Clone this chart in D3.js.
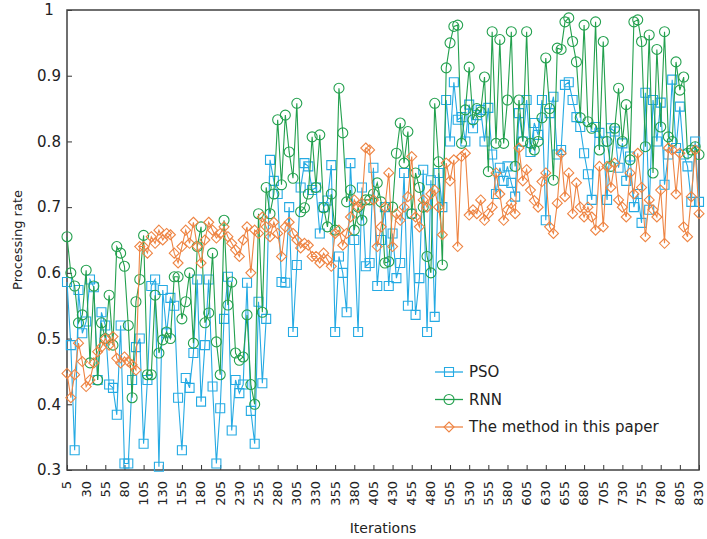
<!DOCTYPE html>
<html>
<head>
<meta charset="utf-8">
<script src="https://cdn.jsdelivr.net/npm/d3@7"></script>
<style>
  body { margin: 0; background: #fff; }
  text { font-family: "DejaVu Sans", Verdana, sans-serif; fill: #222; }
</style>
</head>
<body>
<script>
// iterations on the x axis
var iteraties = d3.range(5, 835, 5);
var xTicks = [5, 30, 55, 80, 105, 130, 155, 180, 205, 230, 255, 280, 305, 330, 355, 380, 405,
  430, 455, 480, 505, 530, 555, 580, 605, 630, 655, 680, 705, 730, 755, 780, 805, 830];
var yTicks = [0.3, 0.4, 0.5, 0.6, 0.7, 0.8, 0.9, 1];

var pso = [0.586, 0.49, 0.33, 0.574, 0.508, 0.526, 0.59, 0.578, 0.437, 0.54,
  0.52, 0.43, 0.425, 0.384, 0.52, 0.31, 0.31, 0.437, 0.487, 0.50,
  0.34, 0.437, 0.58, 0.59, 0.305, 0.574, 0.508, 0.562, 0.55, 0.41,
  0.33, 0.44, 0.425, 0.478, 0.59, 0.404, 0.49, 0.59, 0.427, 0.31,
  0.394, 0.53, 0.594, 0.36, 0.437, 0.417, 0.43, 0.585, 0.39, 0.34,
  0.556, 0.432, 0.53, 0.772, 0.74, 0.72, 0.586, 0.585, 0.70, 0.51,
  0.612, 0.73, 0.767, 0.762, 0.726, 0.73, 0.66, 0.70, 0.71, 0.764,
  0.51, 0.625, 0.60, 0.54, 0.767, 0.65, 0.51, 0.73, 0.61, 0.615,
  0.76, 0.58, 0.65, 0.70, 0.58, 0.66, 0.592, 0.615, 0.752, 0.55,
  0.69, 0.536, 0.592, 0.757, 0.51, 0.741, 0.533, 0.752, 0.70, 0.863,
  0.80, 0.89, 0.833, 0.837, 0.80, 0.856, 0.82, 0.84, 0.848, 0.80,
  0.851, 0.78, 0.72, 0.76, 0.74, 0.762, 0.737, 0.716, 0.843, 0.80,
  0.863, 0.784, 0.828, 0.81, 0.863, 0.68, 0.843, 0.868, 0.78, 0.787,
  0.886, 0.89, 0.863, 0.837, 0.822, 0.782, 0.75, 0.711, 0.822, 0.813,
  0.80, 0.711, 0.82, 0.815, 0.76, 0.797, 0.74, 0.777, 0.70, 0.72,
  0.676, 0.874, 0.696, 0.863, 0.80, 0.859, 0.734, 0.78, 0.894, 0.79,
  0.853, 0.78, 0.762, 0.708, 0.80, 0.708];

var rnn = [0.655, 0.60, 0.58, 0.524, 0.536, 0.604, 0.463, 0.58, 0.437, 0.524,
  0.50, 0.566, 0.49, 0.64, 0.63, 0.61, 0.52, 0.41, 0.556, 0.59,
  0.657, 0.445, 0.445, 0.566, 0.478, 0.498, 0.51, 0.50, 0.594, 0.594,
  0.53, 0.556, 0.60, 0.493, 0.64, 0.67, 0.524, 0.539, 0.63, 0.495,
  0.445, 0.68, 0.551, 0.586, 0.478, 0.467, 0.472, 0.536, 0.43, 0.40,
  0.69, 0.54, 0.73, 0.69, 0.72, 0.833, 0.734, 0.84, 0.784, 0.744,
  0.858, 0.693, 0.699, 0.72, 0.807, 0.73, 0.81, 0.699, 0.67, 0.72,
  0.665, 0.881, 0.813, 0.708, 0.726, 0.665, 0.70, 0.68, 0.711, 0.711,
  0.72, 0.737, 0.708, 0.615, 0.617, 0.70, 0.782, 0.828, 0.767, 0.815,
  0.69, 0.752, 0.73, 0.70, 0.625, 0.60, 0.858, 0.769, 0.612, 0.912,
  0.95, 0.975, 0.977, 0.797, 0.848, 0.913, 0.833, 0.85, 0.845, 0.898,
  0.754, 0.967, 0.797, 0.955, 0.797, 0.863, 0.967, 0.762, 0.863, 0.80,
  0.967, 0.797, 0.787, 0.80, 0.836, 0.927, 0.85, 0.741, 0.942, 0.94,
  0.982, 0.988, 0.952, 0.921, 0.836, 0.977, 0.83, 0.82, 0.982, 0.787,
  0.952, 0.80, 0.762, 0.82, 0.881, 0.80, 0.856, 0.772, 0.982, 0.985,
  0.952, 0.792, 0.962, 0.752, 0.94, 0.822, 0.967, 0.807, 0.80, 0.921,
  0.878, 0.898, 0.782, 0.787, 0.792, 0.78];

var methode = [0.447, 0.41, 0.445, 0.493, 0.465, 0.427, 0.437, 0.463, 0.48, 0.487,
  0.50, 0.49, 0.503, 0.47, 0.463, 0.472, 0.465, 0.46, 0.452, 0.64,
  0.64, 0.63, 0.655, 0.645, 0.665, 0.65, 0.66, 0.658, 0.63, 0.615,
  0.64, 0.665, 0.645, 0.677, 0.64, 0.615, 0.65, 0.677, 0.665, 0.653,
  0.66, 0.67, 0.655, 0.645, 0.635, 0.625, 0.65, 0.67, 0.60, 0.665,
  0.66, 0.685, 0.67, 0.655, 0.677, 0.66, 0.625, 0.67, 0.677, 0.66,
  0.65, 0.638, 0.645, 0.642, 0.625, 0.625, 0.615, 0.63, 0.62, 0.61,
  0.66, 0.665, 0.642, 0.66, 0.685, 0.711, 0.70, 0.706, 0.79, 0.787,
  0.711, 0.64, 0.67, 0.70, 0.752, 0.64, 0.69, 0.68, 0.70, 0.716,
  0.777, 0.685, 0.67, 0.711, 0.70, 0.72, 0.726, 0.70, 0.658, 0.767,
  0.74, 0.772, 0.64, 0.777, 0.782, 0.688, 0.696, 0.69, 0.711, 0.68,
  0.69, 0.70, 0.752, 0.72, 0.68, 0.696, 0.706, 0.69, 0.79, 0.74,
  0.757, 0.726, 0.71, 0.70, 0.739, 0.752, 0.67, 0.66, 0.706, 0.782,
  0.716, 0.752, 0.69, 0.737, 0.70, 0.685, 0.70, 0.685, 0.665, 0.762,
  0.67, 0.762, 0.73, 0.767, 0.711, 0.70, 0.685, 0.752, 0.72, 0.782,
  0.73, 0.655, 0.711, 0.696, 0.685, 0.726, 0.645, 0.79, 0.787, 0.72,
  0.782, 0.67, 0.655, 0.716, 0.787, 0.69];

var reeksen = [
  {naam: "PSO", waarden: pso, kleur: "#25aae3", vorm: "vierkant"},
  {naam: "RNN", waarden: rnn, kleur: "#23a04e", vorm: "cirkel"},
  {naam: "The method in this paper", waarden: methode, kleur: "#ee8443", vorm: "ruit"}
];

var breedte = 707, hoogte = 539;
var marge = {boven: 10, rechts: 8, beneden: 69, links: 67};

var svg = d3.select("body").append("svg")
    .attr("width", breedte)
    .attr("height", hoogte);

var x = d3.scaleLinear().domain([5, 830]).range([marge.links, breedte - marge.rechts]);
var y = d3.scaleLinear().domain([0.3, 1]).range([hoogte - marge.beneden, marge.boven]);

// assen met ticks naar binnen
svg.append("g")
    .attr("transform", "translate(0," + y(0.3) + ")")
    .call(d3.axisBottom(x).tickValues(xTicks).tickSize(-5).tickPadding(0).tickFormat(d3.format("d")))
    .call(function(g) { g.select(".domain").remove(); })
    .call(function(g) {
      g.selectAll("line").attr("stroke", "#333");
      g.selectAll("text")
        .attr("transform", "rotate(-90)")
        .attr("x", -11).attr("y", 0).attr("dy", "0.3em")
        .style("text-anchor", "end")
        .attr("font-size", "13px");
    });

svg.append("g")
    .attr("transform", "translate(" + x(5) + ",0)")
    .call(d3.axisLeft(y).tickValues(yTicks).tickSize(-5).tickFormat(d3.format("")))
    .call(function(g) { g.select(".domain").remove(); })
    .call(function(g) {
      g.selectAll("line").attr("stroke", "#333");
      g.selectAll("text").attr("font-size", "15px").attr("x", -18)
        .style("text-anchor", "middle");
    });

// kader
svg.append("rect")
    .attr("x", x(5)).attr("y", y(1))
    .attr("width", x(830) - x(5)).attr("height", y(0.3) - y(1))
    .attr("fill", "none").attr("stroke", "#404040").attr("stroke-width", 1.5);

var lijn = d3.line()
    .x(function(d, i) { return x(iteraties[i]); })
    .y(function(d) { return y(d); });

function markeer(vorm) {
  if (vorm === "vierkant") return "M-4.5,-4.5H4.5V4.5H-4.5Z";
  if (vorm === "ruit") return "M0,-5L5,0L0,5L-5,0Z";
  return "M5,0A5,5 0 1,1 -5,0A5,5 0 1,1 5,0Z";
}

reeksen.forEach(function(r) {
  var g = svg.append("g");
  g.append("path")
    .datum(r.waarden)
    .attr("d", lijn)
    .attr("fill", "none")
    .attr("stroke", r.kleur)
    .attr("stroke-width", 1.1);
  g.selectAll("path.m")
    .data(r.waarden)
    .enter().append("path")
    .attr("class", "m")
    .attr("transform", function(d, i) { return "translate(" + x(iteraties[i]) + "," + y(d) + ")"; })
    .attr("d", markeer(r.vorm))
    .attr("fill", "none")
    .attr("stroke", r.kleur)
    .attr("stroke-width", 1.1);
});

// legenda
var legenda = svg.append("g").attr("transform", "translate(435,372)");
reeksen.forEach(function(r, i) {
  var rij = legenda.append("g").attr("transform", "translate(0," + (i * 27.5) + ")");
  rij.append("line").attr("x1", 0).attr("x2", 28).attr("stroke", r.kleur).attr("stroke-width", 1.3);
  rij.append("path").attr("transform", "translate(14,0)").attr("d", markeer(r.vorm))
    .attr("fill", "none").attr("stroke", r.kleur).attr("stroke-width", 1.1);
  rij.append("text").attr("x", 34).attr("dy", "0.35em").attr("font-size", "15px").text(r.naam);
});

// as titels
svg.append("text")
    .attr("x", (x(5) + x(830)) / 2).attr("y", 533)
    .attr("text-anchor", "middle").attr("font-size", "14px")
    .text("Iterations");

svg.append("text")
    .attr("transform", "rotate(-90)")
    .attr("x", -(y(0.3) + y(1)) / 2).attr("y", 22)
    .attr("text-anchor", "middle").attr("font-size", "13px")
    .text("Processing rate");
</script>
</body>
</html>
